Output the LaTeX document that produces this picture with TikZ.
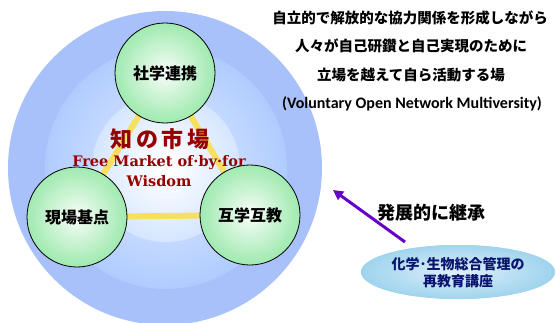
\documentclass[tikz,border=0pt]{standalone}
\usepackage{fontspec}
\usetikzlibrary{arrows.meta,shapes.geometric}
\newfontfamily\jp{Noto Sans CJK JP}
\newfontfamily\carl{Carlito}
\newfontfamily\dvs{DejaVu Serif}
\definecolor{ringblue}{RGB}{169,193,250}
\definecolor{midblue}{RGB}{176,204,255}
\definecolor{lightblue}{RGB}{214,230,255}
\definecolor{ballgreen}{RGB}{160,234,176}
\definecolor{linkyellow}{RGB}{245,224,96}
\definecolor{wisred}{RGB}{150,0,0}
\definecolor{arrowpurple}{RGB}{102,0,204}
\definecolor{ellouter}{RGB}{160,212,238}
\definecolor{ellinner}{RGB}{224,241,250}
\definecolor{navytext}{RGB}{10,20,110}
\tikzset{
  ball/.style={circle, draw=black, line width=0.8pt, minimum size=100pt, inner sep=0pt,
    font=\jp\bfseries\fontsize{16}{18}\selectfont,
    path picture={
      \foreach \i in {0,...,24}{
        \pgfmathsetmacro\rr{51*(1-\i/25)}
        \pgfmathsetmacro\pp{100*(1-\i/25)^0.9}
        \fill[ballgreen!\pp!white] (path picture bounding box.center) circle (\rr pt);
      }}},
  ellbox/.style={ellipse, minimum width=194pt, minimum height=54pt, inner sep=0pt,
    path picture={
      \fill[ellouter] (path picture bounding box.center) ellipse (98pt and 28pt);
      \foreach \i in {0,...,20}{
        \pgfmathsetmacro\rx{98*(1-\i/21)}
        \pgfmathsetmacro\ry{28*(1-\i/21)}
        \pgfmathsetmacro\pp{100*(1-\i/21)}
        \fill[ellouter!\pp!ellinner] (path picture bounding box.center) ellipse (\rx pt and \ry pt);
      }}},
  link/.style={draw=linkyellow, line width=6pt},
  jptext/.style={font=\jp\bfseries\fontsize{14.5}{16}\selectfont, inner sep=0pt},
}
\begin{document}
\begin{tikzpicture}[x=1pt,y=-1pt]
\useasboundingbox (0,0) rectangle (556,323);
\clip (0,0) rectangle (556,323);
\coordinate (cc) at (166,168);
\fill[ringblue] (165,168) circle (157pt);
\foreach \i in {0,...,20}{
  \pgfmathsetmacro\rr{121-46*\i/20}
  \pgfmathsetmacro\pp{100-25*\i/20}
  \fill[midblue!\pp!white] (cc) circle (\rr pt);
}
\foreach \i in {0,...,30}{
  \pgfmathsetmacro\rr{74*(1-\i/31)}
  \pgfmathsetmacro\pp{max(0,100*(\rr-8)/66)}
  \fill[lightblue!\pp!white] (cc) circle (\rr pt);
}
\coordinate (ct) at (165,73);
\coordinate (cl) at (77,217);
\coordinate (cr) at (250,215);
\draw[link] (ct) -- (cl) -- (cr) -- cycle;
\node[ball] (top) at (ct) {社学連携};
\node[ball] (left) at (cl) {現場基点};
\node[ball] (right) at (cr) {互学互教};
\node[text=wisred, font=\jp\bfseries\fontsize{22}{24}\selectfont, inner sep=0pt] (chi) at (160,139) {知\,の\,市\,場};
\node[text=wisred, font=\dvs\bfseries\fontsize{14.5}{20}\selectfont, inner sep=0pt, align=center] (fm) at (159,171) {Free Market of·by·for\\Wisdom};
\node[jptext] (t1) at (410,18) {自立的で解放的な協力関係を形成しながら};
\node[jptext] (t2) at (411,46) {人々が自己研鑽と自己実現のために};
\node[jptext] (t3) at (411,75) {立場を越えて自ら活動する場};
\node[font=\carl\bfseries\fontsize{16}{18}\selectfont, inner sep=0pt] (t4) at (412,104) {(Voluntary Open Network Multiversity)};
\node[ellbox] (ell) at (458,272) {};
\node[text=navytext, font=\jp\bfseries\fontsize{14}{17}\selectfont, align=center, inner sep=0pt] (elltext) at (458,273) {化学･生物総合管理の\\再教育講座};
\coordinate (arrs) at (405,242);
\coordinate (arre) at (333,190);
\draw[arrowpurple, line width=3pt, -{Triangle[length=10pt,width=10pt]}] (arrs) -- (arre);
\node[font=\jp\bfseries\fontsize{18}{20}\selectfont, inner sep=0pt] (hatten) at (431,213) {発展的に継承};
\end{tikzpicture}
\end{document}
